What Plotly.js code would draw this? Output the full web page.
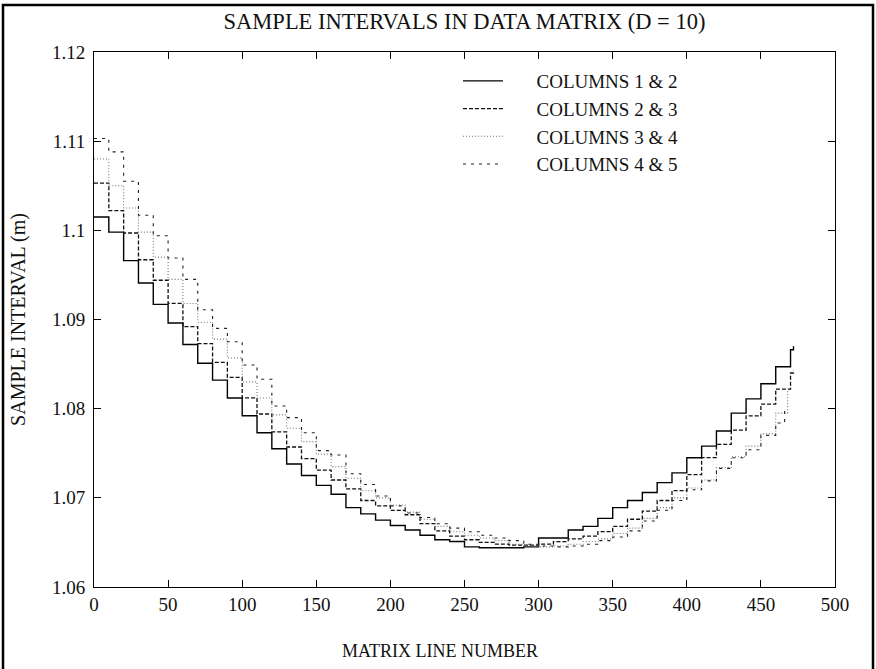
<!DOCTYPE html>
<html>
<head>
<meta charset="utf-8">
<script src="https://cdn.plot.ly/plotly-3.0.1.min.js"></script>
<style>
html,body{margin:0;padding:0;background:#fff;}
#chart{width:876px;height:669px;}
</style>
</head>
<body>
<div id="chart"></div>
<script>
// ---- data ----
var seriesNames = ["COLUMNS 1 & 2", "COLUMNS 2 & 3", "COLUMNS 3 & 4", "COLUMNS 4 & 5"];

var lines12 = [0,10,20,30,40,50,60,70,80,90,100,110,120,130,140,150,160,170,180,190,200,210,220,230,240,250,260,270,280,290,300,310,320,330,340,350,360,370,380,390,400,410,420,430,440,450,460,470,472];
var interval12 = [1.1015,1.0998,1.0966,1.0941,1.0917,1.0896,1.0872,1.0851,1.0832,1.0812,1.0792,1.0773,1.0755,1.0738,1.0725,1.0714,1.0704,1.0689,1.0682,1.0675,1.0669,1.0664,1.0658,1.0653,1.0651,1.0645,1.0644,1.0644,1.0644,1.0645,1.0655,1.0655,1.0664,1.0668,1.0677,1.0689,1.0697,1.0706,1.0717,1.0728,1.0745,1.0758,1.0775,1.0795,1.0811,1.0828,1.0847,1.0866,1.0870];

var lines23 = [0,10,20,30,40,50,60,70,80,90,100,110,120,130,140,150,160,170,180,190,200,210,220,230,240,250,260,270,280,290,300,310,320,330,340,350,360,370,380,390,400,410,420,430,440,450,460,470,472];
var interval23 = [1.1053,1.1022,1.0997,1.0967,1.0944,1.0918,1.0892,1.0873,1.0852,1.0835,1.0812,1.0794,1.0774,1.0757,1.0744,1.0731,1.0720,1.0710,1.0697,1.0691,1.0686,1.0681,1.0671,1.0663,1.0657,1.0653,1.0650,1.0648,1.0647,1.0647,1.0648,1.0651,1.0654,1.0657,1.0662,1.0668,1.0676,1.0685,1.0697,1.0708,1.0726,1.0745,1.0760,1.0776,1.0792,1.0805,1.0822,1.0840,1.0843];

var lines34 = [0,10,20,30,40,50,60,70,80,90,100,110,120,130,140,150,160,170,180,190,200,210,220,230,240,250,260,270,280,290,300,310,320,330,340,350,360,370,380,390,400,410,420,430,440,450,460,468];
var interval34 = [1.1080,1.1050,1.1025,1.0998,1.0970,1.0945,1.0918,1.0897,1.0878,1.0857,1.0830,1.0812,1.0793,1.0778,1.0763,1.0749,1.0735,1.0722,1.0708,1.0700,1.0692,1.0684,1.0676,1.0668,1.0662,1.0658,1.0655,1.0652,1.0648,1.0646,1.0645,1.0646,1.0648,1.0651,1.0654,1.0660,1.0666,1.0677,1.0689,1.0700,1.0711,1.0720,1.0734,1.0746,1.0758,1.0772,1.0795,1.0822];

var lines45 = [0,10,20,30,40,50,60,70,80,90,100,110,120,130,140,150,160,170,180,190,200,210,220,230,240,250,260,270,280,290,300,310,320,330,340,350,360,370,380,390,400,410,420,430,440,450,460,466];
var interval45 = [1.1103,1.1088,1.1055,1.1017,1.0994,1.0969,1.0945,1.0911,1.0890,1.0875,1.0849,1.0833,1.0803,1.0790,1.0773,1.0753,1.0748,1.0727,1.0715,1.0702,1.0691,1.0683,1.0678,1.0671,1.0666,1.0662,1.0658,1.0655,1.0652,1.0648,1.0646,1.0645,1.0646,1.0648,1.0652,1.0656,1.0663,1.0674,1.0686,1.0697,1.0709,1.0719,1.0733,1.0745,1.0754,1.0770,1.0784,1.0802];

var xTickVals = [0,50,100,150,200,250,300,350,400,450,500];
var yTickVals = [1.06,1.07,1.08,1.09,1.10,1.11,1.12];
var yTickText = ["1.06","1.07","1.08","1.09","1.1","1.11","1.12"];

// ---- chart ----
var FONT = "Liberation Serif, Times New Roman, serif";
var pad = "\u00a0\u00a0\u00a0\u00a0\u00a0\u00a0";

function trace(x, y, name, color, width, dash) {
  return {
    x: x, y: y, name: pad + name, type: "scatter", mode: "lines",
    line: {color: color, width: width, dash: dash, shape: "hv"}
  };
}

var data = [
  trace(lines12, interval12, seriesNames[0], "#000000", 1.4, "solid"),
  trace(lines23, interval23, seriesNames[1], "#111111", 1.3, "4px,2px"),
  trace(lines34, interval34, seriesNames[2], "#777777", 1.1, "1px,2px"),
  trace(lines45, interval45, seriesNames[3], "#222222", 1.1, "3px,5px")
];

var layout = {
  width: 876, height: 669,
  paper_bgcolor: "#ffffff", plot_bgcolor: "#ffffff",
  margin: {l: 94, r: 41, t: 52, b: 82},
  font: {family: FONT, color: "#111111", size: 18},
  title: {
    text: "SAMPLE INTERVALS IN DATA MATRIX (D = 10)",
    font: {family: FONT, size: 22.5, color: "#111111"},
    x: 0.5, xref: "paper", xanchor: "center",
    y: 1 - 21/669, yref: "container", yanchor: "middle"
  },
  xaxis: {
    range: [0, 500], tickvals: xTickVals,
    ticks: "inside", ticklen: 7, tickcolor: "#000",
    showline: true, linecolor: "#000", linewidth: 1, mirror: "ticks",
    showgrid: false, zeroline: false,
    tickfont: {family: FONT, size: 19, color: "#111"}
  },
  yaxis: {
    range: [1.06, 1.12], tickvals: yTickVals, ticktext: yTickText,
    ticks: "inside", ticklen: 7, tickcolor: "#000",
    showline: true, linecolor: "#000", linewidth: 1, mirror: "ticks",
    showgrid: false, zeroline: false,
    ticklabelstandoff: 4,
    tickfont: {family: FONT, size: 19, color: "#111"},
    title: {text: "SAMPLE INTERVAL (m)", font: {family: FONT, size: 20, color: "#111"}, standoff: 20}
  },
  annotations: [
    {text: "MATRIX LINE NUMBER", xref: "paper", yref: "paper",
     x: (440 - 94) / 741, y: (587 - 651) / 535, xanchor: "center", yanchor: "middle",
     showarrow: false, font: {family: FONT, size: 18, color: "#111"}}
  ],
  showlegend: true,
  legend: {
    x: (458 - 94) / 741, y: (587 - 62) / 535, xanchor: "left", yanchor: "top",
    bgcolor: "rgba(255,255,255,0)", borderwidth: 0,
    font: {family: FONT, size: 19, color: "#111"},
    itemwidth: 40
  },
  shapes: [
    {type: "rect", xref: "paper", yref: "paper",
     x0: (3 - 94) / 741, x1: (873 - 94) / 741, y0: (587 - 700) / 535, y1: (587 - 5) / 535,
     line: {color: "#000", width: 2.5}, fillcolor: "rgba(0,0,0,0)", layer: "below"}
  ]
};

Plotly.newPlot("chart", data, layout, {displayModeBar: false, staticPlot: true});
</script>
</body>
</html>
